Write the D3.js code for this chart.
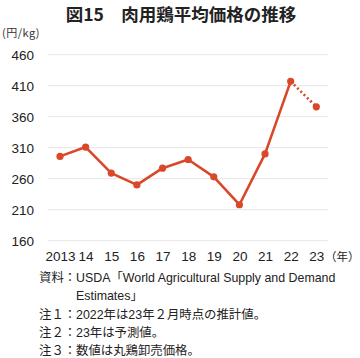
<!DOCTYPE html>
<html><head><meta charset="utf-8">
<script src="https://cdn.jsdelivr.net/npm/d3@7"></script>
<style>
body{margin:0;background:#fff;}
svg{display:block;font-family:"Liberation Sans","Noto Sans CJK JP",sans-serif;}
</style></head>
<body><svg id="c" width="360" height="358"></svg>
<script>
const years = ["2013","14","15","16","17","18","19","20","21","22","23"];
const prices = [296, 311, 269, 250, 277, 291, 263, 218, 300, 417, 376];
const yTicks = [160, 210, 260, 310, 360, 410, 460];
const title = "図15　肉用鶏平均価格の推移";
const yUnit = "(円/kg)";
const xUnit = "（年）";
const notes = [
  ["資料：", "USDA「World Agricultural Supply and Demand"],
  ["", "Estimates」"],
  ["注１：", "2022年は23年２月時点の推計値。"],
  ["注２：", "23年は予測値。"],
  ["注３：", "数値は丸鶏卸売価格。"]
];
const color = "#d9482a";

const svg = d3.select("#c");
const x = d3.scalePoint().domain(years).range([60, 316.3]);
const y = d3.scaleLinear().domain([160, 460]).range([240.7, 54.7]);

svg.append("text").attr("x", 181).attr("y", 21).attr("text-anchor", "middle")
  .attr("font-family", "'Noto Sans CJK JP',sans-serif")
  .attr("font-size", 17.5).attr("font-weight", "bold").attr("fill", "#222").text(title);
svg.append("text").attr("x", 2).attr("y", 37).attr("font-size", 11).attr("fill", "#333")
  .attr("font-family", "'Noto Sans CJK JP',sans-serif").attr("letter-spacing", 0.5).text(yUnit);

// grid
svg.append("g").selectAll("line").data(yTicks).join("line")
  .attr("x1", 48).attr("x2", 328).attr("y1", d => y(d)).attr("y2", d => y(d))
  .attr("stroke", "#e6e6e6").attr("stroke-width", 1);

// y axis labels
const yAxis = svg.append("g").attr("transform", "translate(34,0)")
  .call(d3.axisLeft(y).tickValues(yTicks).tickSize(0).tickPadding(0));
yAxis.select(".domain").remove();
yAxis.selectAll("text").attr("font-size", 13.5).attr("fill", "#222").attr("font-family", "'Liberation Sans', sans-serif").attr("dy", "0.35em");

// x axis labels
const xAxis = svg.append("g").attr("transform", "translate(0,250)")
  .call(d3.axisBottom(x).tickSize(0).tickPadding(0));
xAxis.select(".domain").remove();
xAxis.selectAll("text").attr("font-size", 13.5).attr("fill", "#222").attr("font-family", "'Liberation Sans', sans-serif").attr("dy", "0.85em");
svg.append("text").attr("x", 325).attr("y", 261).attr("font-size", 11.5).attr("fill", "#222")
  .attr("font-family", "'Noto Sans CJK JP',sans-serif").text(xUnit);

const data = years.map((d, i) => ({ year: d, v: prices[i] }));
const line = d3.line().x(d => x(d.year)).y(d => y(d.v));
svg.append("path").datum(data.slice(0, 10)).attr("d", line)
  .attr("fill", "none").attr("stroke", color).attr("stroke-width", 2.6).attr("stroke-linejoin", "round");
svg.append("path").datum(data.slice(9)).attr("d", line)
  .attr("fill", "none").attr("stroke", color).attr("stroke-width", 2.6)
  .attr("stroke-dasharray", "2,2.6");
svg.append("g").selectAll("circle").data(data).join("circle")
  .attr("cx", d => x(d.year)).attr("cy", d => y(d.v)).attr("r", 3.6).attr("fill", color);

// notes
const ng = svg.append("g").attr("font-size", 12.4).attr("fill", "#222");
notes.forEach((n, i) => {
  const yy = 282 + i * 18.3;
  if (n[0]) ng.append("text").attr("x", 39).attr("y", yy).text(n[0]);
  ng.append("text").attr("x", 76).attr("y", yy).text(n[1]);
});
</script></body></html>
